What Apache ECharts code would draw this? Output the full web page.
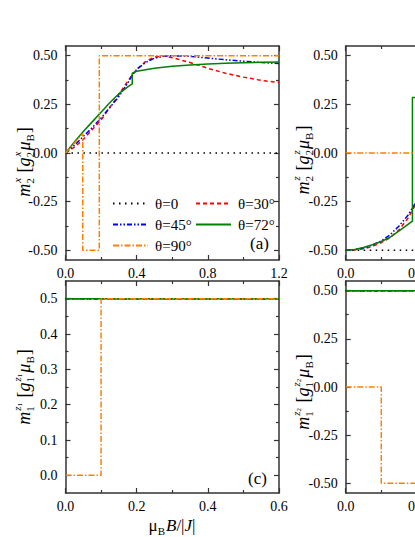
<!DOCTYPE html>
<html>
<head>
<meta charset="utf-8">
<script src="https://cdn.jsdelivr.net/npm/echarts@6/dist/echarts.min.js"></script>
<style>
  html, body { margin: 0; padding: 0; background: #fff; }
  #chart { width: 415px; height: 537px; }
</style>
</head>
<body>
<div id="chart"></div>
<script>
// ---- data ----
const thetaNames = ['θ=0', 'θ=30°', 'θ=45°', 'θ=72°', 'θ=90°']

// panel (a): m2^x vs field
const aField0 = [0, 1.2]
const aMoment0 = [0, 0]
const aField30 = [0, 0.05, 0.1, 0.15, 0.2, 0.25, 0.3, 0.35, 0.4, 0.45, 0.5, 0.55, 0.6, 0.7, 0.8, 0.9, 1.0, 1.1, 1.2]
const aMoment30 = [0, 0.03, 0.07, 0.12, 0.17, 0.235, 0.3, 0.37, 0.43, 0.47, 0.493, 0.5, 0.49, 0.465, 0.435, 0.41, 0.39, 0.373, 0.363]
const aField45 = [0, 0.05, 0.1, 0.15, 0.2, 0.25, 0.3, 0.35, 0.375, 0.4, 0.45, 0.5, 0.55, 0.6, 0.7, 0.8, 0.9, 1.0, 1.1, 1.2]
const aMoment45 = [0, 0.04, 0.085, 0.13, 0.18, 0.235, 0.29, 0.36, 0.4, 0.43, 0.465, 0.487, 0.497, 0.5, 0.497, 0.488, 0.479, 0.472, 0.465, 0.46]
const aField72 = [0, 0.05, 0.1, 0.15, 0.2, 0.25, 0.3, 0.35, 0.375, 0.375, 0.4, 0.5, 0.6, 0.7, 0.8, 0.9, 1.0, 1.1, 1.2]
const aMoment72 = [0, 0.057, 0.11, 0.16, 0.21, 0.26, 0.305, 0.34, 0.355, 0.41, 0.42, 0.436, 0.446, 0.452, 0.457, 0.461, 0.464, 0.466, 0.468]
const aField90 = [0, 0.097, 0.097, 0.19, 0.19, 1.2]
const aMoment90 = [0, 0.1, -0.5, -0.5, 0.5, 0.5]

// panel (b): m2^z vs field (only the left part is inside the picture)
const bField0 = [0, 1.2]
const bMoment0 = [-0.5, -0.5]
const bField30 = [0, 0.05, 0.1, 0.15, 0.2, 0.25, 0.3, 0.35, 0.39]
const bMoment30 = [-0.5, -0.498, -0.492, -0.48, -0.46, -0.435, -0.395, -0.335, -0.27]
const bField45 = [0, 0.05, 0.1, 0.15, 0.2, 0.25, 0.3, 0.35, 0.39]
const bMoment45 = [-0.5, -0.497, -0.488, -0.473, -0.452, -0.42, -0.375, -0.32, -0.26]
const bField72 = [0, 0.05, 0.1, 0.15, 0.2, 0.25, 0.3, 0.35, 0.375, 0.375, 0.39]
const bMoment72 = [-0.5, -0.496, -0.486, -0.472, -0.455, -0.433, -0.4, -0.367, -0.35, 0.285, 0.285]
const bField90 = [0, 0.39]
const bMoment90 = [0, 0]

// panel (c): m1^z1 vs field
const cFieldFlat = [0, 0.6]
const cMomentFlat = [0.5, 0.5]
const cField90 = [0, 0.1, 0.1, 0.6]
const cMoment90 = [0, 0, 0.5, 0.5]

// panel (d): m1^z2 vs field
const dFieldFlat = [0, 0.6]
const dMomentFlat = [0.5, 0.5]
const dField90 = [0, 0.1, 0.1, 0.6]
const dMoment90 = [0, 0, -0.5, -0.5]

// tick values
const halfYMajor = [-0.5, -0.25, 0, 0.25, 0.5]
const halfYMinor = [-0.375, -0.125, 0.125, 0.375]
const cYMajor = [0, 0.1, 0.2, 0.3, 0.4, 0.5]
const cYMinor = [0.05, 0.15, 0.25, 0.35, 0.45]

// ---- styles ----
const FONT = 'Liberation Serif'
const AXIS_COLOR = '#333'
const lineStyles = {
  'θ=0': { color: '#000000', width: 1.5, type: [1.5, 4.5] },
  'θ=30°': { color: '#ff0000', width: 1.5, type: [4, 3] },
  'θ=45°': { color: '#0000ff', width: 1.5, type: [5, 2, 1.5, 2, 1.5, 2] },
  'θ=72°': { color: '#008000', width: 1.5, type: 'solid' },
  'θ=90°': { color: '#ff8000', width: 1.5, type: [6, 2, 1.5, 2] }
}

const panels = [
  {
    rect: [65.5, 46, 213.5, 214], x: [0, 1.2, 0.4], y: [-0.55, 0.55], yMajor: halfYMajor, yMinor: halfYMinor, digits: 2,
    lines: [[aField0, aMoment0], [aField30, aMoment30], [aField45, aMoment45], [aField72, aMoment72], [aField90, aMoment90]]
  },
  {
    rect: [345.7, 46, 213.5, 214], x: [0, 1.2, 0.4], y: [-0.55, 0.55], yMajor: halfYMajor, yMinor: halfYMinor, digits: 2,
    lines: [[bField0, bMoment0], [bField30, bMoment30], [bField45, bMoment45], [bField72, bMoment72], [bField90, bMoment90]]
  },
  {
    rect: [65.5, 281, 213.5, 212], x: [0, 0.6, 0.2], y: [-0.05, 0.55], yMajor: cYMajor, yMinor: cYMinor, digits: 1,
    lines: [[cFieldFlat, cMomentFlat], [cFieldFlat, cMomentFlat], [cFieldFlat, cMomentFlat], [cFieldFlat, cMomentFlat], [cField90, cMoment90]]
  },
  {
    rect: [345.7, 281, 213.5, 212], x: [0, 0.6, 0.2], y: [-0.55, 0.55], yMajor: halfYMajor, yMinor: halfYMinor, digits: 2,
    lines: [[dFieldFlat, dMomentFlat], [dFieldFlat, dMomentFlat], [dFieldFlat, dMomentFlat], [dFieldFlat, dMomentFlat], [dField90, dMoment90]]
  }
]

const grids = []
const xAxes = []
const yAxes = []
const series = []

const axisLine = { show: true, onZero: false, lineStyle: { color: AXIS_COLOR, width: 1.5 } }
const tickLine = { color: AXIS_COLOR, width: 1.2 }

panels.forEach((p, g) => {
  grids.push({ left: p.rect[0], top: p.rect[1], width: p.rect[2], height: p.rect[3], containLabel: false, outerBoundsMode: 'none' })

  for (const pos of ['bottom', 'top']) {
    xAxes.push({
      type: 'value', gridIndex: g, position: pos, min: p.x[0], max: p.x[1], interval: p.x[2],
      axisLine,
      axisTick: { show: true, inside: true, length: 5, lineStyle: tickLine },
      minorTick: { show: true, splitNumber: 2, length: 3, lineStyle: tickLine },
      splitLine: { show: false },
      axisLabel: { show: pos === 'bottom', margin: 6, fontFamily: FONT, fontSize: 14, color: '#000', formatter: (v) => v.toFixed(1) }
    })
  }

  for (const pos of ['left', 'right']) {
    yAxes.push({
      type: 'value', gridIndex: g, position: pos, min: p.y[0], max: p.y[1],
      axisLine,
      axisTick: { show: true, inside: true, length: 5, customValues: p.yMajor, lineStyle: tickLine },
      splitLine: { show: false },
      axisLabel: { show: pos === 'left', customValues: p.yMajor, margin: 8, fontFamily: FONT, fontSize: 14, color: '#000', formatter: (v) => v.toFixed(p.digits) }
    })
    yAxes.push({
      type: 'value', gridIndex: g, position: pos, min: p.y[0], max: p.y[1],
      axisLine: { show: false, onZero: false },
      axisTick: { show: true, inside: true, length: 3, customValues: p.yMinor, lineStyle: tickLine },
      splitLine: { show: false },
      axisLabel: { show: false }
    })
  }

  p.lines.forEach(([field, moment], i) => {
    const name = thetaNames[i]
    series.push({
      type: 'line', name, xAxisIndex: g * 2, yAxisIndex: g * 4,
      data: field.map((b, k) => [b, moment[k]]),
      symbol: 'none', color: lineStyles[name].color, lineStyle: lineStyles[name]
    })
  })
})

// ---- axis titles built from small text pieces (sub/superscripts) ----
const measureCtx = document.createElement('canvas').getContext('2d')
function measure(text, size, italic) {
  measureCtx.font = (italic ? 'italic ' : '') + size + 'px "Liberation Serif"'
  return measureCtx.measureText(text).width
}

const MAIN = 18
const SMALL = 11
function piece(text, x, y, size, italic) {
  return {
    type: 'text', x, y,
    style: { text, fontSize: size, fontFamily: FONT, fontStyle: italic ? 'italic' : 'normal', fill: '#000', align: 'left', verticalAlign: 'middle' }
  }
}

// tokens: ['t', text, italic] | ['ss', sup, sub, supIndex] | ['sub', text]
function titleGroup(tokens, cx, cy, rotated, mainSize) {
  const size = mainSize || MAIN
  const children = []
  let x = 0
  tokens.forEach((tk) => {
    if (tk[0] === 't') {
      children.push(piece(tk[1], x, 0, size, tk[2]))
      x += measure(tk[1], size, tk[2])
    } else if (tk[0] === 'ss') {
      let supW = measure(tk[1], SMALL, true)
      children.push(piece(tk[1], x + 1, -7, SMALL, true))
      if (tk[3]) {
        children.push(piece(tk[3], x + 1 + supW, -4, 7, false))
        supW += measure(tk[3], 7, false)
      }
      children.push(piece(tk[2], x, 6, SMALL, false))
      x += Math.max(supW + 1, measure(tk[2], SMALL, false)) + 1
    } else if (tk[0] === 'sub') {
      children.push(piece(tk[1], x, 6, SMALL, false))
      x += measure(tk[1], SMALL, false) + 1
    }
  })
  children.forEach((c) => { c.x -= x / 2 })
  return { type: 'group', x: cx, y: cy, rotation: rotated ? Math.PI / 2 : 0, children }
}

const titleA = [['t', 'm', true], ['ss', 'x', '2'], ['t', ' [', false], ['t', 'g', true], ['ss', 'x', '2'], ['t', 'μ', true], ['sub', 'B'], ['t', ']', false]]
const titleB = [['t', 'm', true], ['ss', 'z', '2'], ['t', ' [', false], ['t', 'g', true], ['ss', 'z', '2'], ['t', 'μ', true], ['sub', 'B'], ['t', ']', false]]
const titleC = [['t', 'm', true], ['ss', 'z', '1', '1'], ['t', ' [', false], ['t', 'g', true], ['ss', 'z', '1', '1'], ['t', 'μ', true], ['sub', 'B'], ['t', ']', false]]
const titleD = [['t', 'm', true], ['ss', 'z', '1', '2'], ['t', ' [', false], ['t', 'g', true], ['ss', 'z', '1', '2'], ['t', 'μ', true], ['sub', 'B'], ['t', ']', false]]
const titleX = [['t', 'μ', false], ['sub', 'B'], ['t', 'B', true], ['t', '/|', false], ['t', 'J', true], ['t', '|', false]]

const graphic = [
  titleGroup(titleA, 24, 162, true),
  titleGroup(titleB, 303, 160, true),
  titleGroup(titleC, 24, 387, true),
  titleGroup(titleD, 303, 392, true),
  titleGroup(titleX, 172, 525, false, 17),
  piece('(a)', 250, 243, 17, false),
  piece('(c)', 248, 478, 17, false)
]

const legendBase = {
  orient: 'vertical', top: 191, itemWidth: 35, itemHeight: 14, itemGap: 6, selectedMode: false,
  itemStyle: { opacity: 0 },
  textStyle: { fontFamily: FONT, fontSize: 15, color: '#000', padding: [0, 0, 0, 2] }
}

const chart = echarts.init(document.getElementById('chart'), null, { renderer: 'svg' })
chart.setOption({
  animation: false,
  backgroundColor: '#fff',
  grid: grids,
  xAxis: xAxes,
  yAxis: yAxes,
  legend: [
    Object.assign({ data: ['θ=0', 'θ=45°', 'θ=90°'], left: 107 }, legendBase),
    Object.assign({ data: ['θ=30°', 'θ=72°'], left: 190 }, legendBase)
  ],
  graphic,
  series
})
</script>
</body>
</html>
